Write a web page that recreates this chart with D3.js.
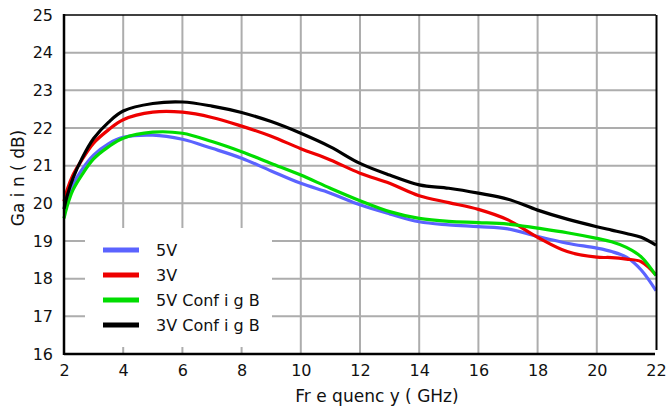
<!DOCTYPE html>
<html>
<head>
<meta charset="utf-8">
<script src="https://cdn.jsdelivr.net/npm/d3@7"></script>
<style>
	body { margin:0; background:#fff; }
	text { font-family: "DejaVu Sans", Verdana, sans-serif; fill:#111; }
</style>
</head>
<body>
<div id="chart"></div>
<script>
// frequency points (GHz)
var freq    = [2, 2.1, 2.3, 2.6, 3, 3.5, 4, 5, 6, 7, 8, 9, 10, 11, 12, 13, 14, 15, 16, 17, 18, 19, 20, 20.5, 21, 21.5, 22];
// gain (dB) per curve
var gain5V  = [19.9, 20.04, 20.49, 20.89, 21.28, 21.58, 21.75, 21.81, 21.70, 21.46, 21.20, 20.86, 20.53, 20.27, 19.96, 19.72, 19.51, 19.43, 19.38, 19.32, 19.12, 18.94, 18.81, 18.72, 18.57, 18.23, 17.68];
var gain3V  = [20.05, 20.35, 20.75, 21.15, 21.60, 21.95, 22.22, 22.42, 22.42, 22.28, 22.05, 21.78, 21.45, 21.15, 20.80, 20.53, 20.20, 20.02, 19.84, 19.56, 19.10, 18.72, 18.57, 18.56, 18.52, 18.45, 18.10];
var gain5VB = [19.6, 19.91, 20.35, 20.75, 21.18, 21.50, 21.73, 21.89, 21.86, 21.64, 21.37, 21.06, 20.75, 20.40, 20.07, 19.78, 19.60, 19.52, 19.49, 19.45, 19.34, 19.22, 19.07, 18.98, 18.83, 18.58, 18.08];
var gain3VB = [19.85, 20.18, 20.66, 21.18, 21.72, 22.15, 22.45, 22.65, 22.69, 22.58, 22.41, 22.17, 21.86, 21.50, 21.06, 20.75, 20.49, 20.40, 20.27, 20.11, 19.82, 19.58, 19.38, 19.29, 19.20, 19.10, 18.89];

var seriesNames  = ['5V', '3V', '5V Config B', '3V Config B'];
var seriesColors = ['#5b63ff', '#ee0000', '#00dd00', '#000000'];
var xTicks = [2, 4, 6, 8, 10, 12, 14, 16, 18, 20, 22];
var yTicks = [16, 17, 18, 19, 20, 21, 22, 23, 24, 25];

var W = 669, H = 410;
var plot = { left:64, top:15, right:656, bottom:354 };

var svg = d3.select('#chart').append('svg')
	.attr('width', W)
	.attr('height', H);

var x = d3.scaleLinear().domain([2, 22]).range([plot.left, plot.right]);
var y = d3.scaleLinear().domain([16, 25]).range([plot.bottom, plot.top]);

//格線
var grid = svg.append('g');
xTicks.slice(1, -1).forEach(function(t){
	grid.append('line')
		.attr('x1', x(t)).attr('x2', x(t))
		.attr('y1', plot.top).attr('y2', plot.bottom)
		.attr('stroke', '#adadad').attr('stroke-width', 2);
});
yTicks.slice(1, -1).forEach(function(t){
	grid.append('line')
		.attr('x1', plot.left).attr('x2', plot.right)
		.attr('y1', y(t)).attr('y2', y(t))
		.attr('stroke', '#adadad').attr('stroke-width', 2);
});

//legend background hides the grid
svg.append('rect')
	.attr('x', 85).attr('y', 228)
	.attr('width', 187).attr('height', 119)
	.attr('fill', '#fff');

//curves
var allGain = [gain5V, gain3V, gain5VB, gain3VB];
var line = d3.line()
	.x(function(d){ return x(d[0]); })
	.y(function(d){ return y(d[1]); })
	.curve(d3.curveCatmullRom.alpha(0.5));

var curves = svg.append('g');
allGain.forEach(function(g, i){
	curves.append('path')
		.datum(freq.map(function(f, k){ return [f, g[k]]; }))
		.attr('d', line)
		.attr('fill', 'none')
		.attr('stroke', seriesColors[i])
		.attr('stroke-width', 3.2)
		.attr('stroke-linejoin', 'round');
});

//frame
var frame = svg.append('g');
frame.append('line').attr('x1', plot.left).attr('x2', plot.right).attr('y1', plot.top).attr('y2', plot.top)
	.attr('stroke', '#000').attr('stroke-width', 1.5);
frame.append('line').attr('x1', plot.right + 0.5).attr('x2', plot.right + 0.5).attr('y1', plot.top).attr('y2', plot.bottom - 4)
	.attr('stroke', '#000').attr('stroke-width', 2);
frame.append('line').attr('x1', plot.left).attr('x2', plot.left).attr('y1', plot.top - 1).attr('y2', plot.bottom + 1)
	.attr('stroke', '#000').attr('stroke-width', 2.5);
frame.append('line').attr('x1', plot.left).attr('x2', plot.right - 1).attr('y1', plot.bottom).attr('y2', plot.bottom)
	.attr('stroke', '#000').attr('stroke-width', 2.5);

//刻度文字
var yAxis = d3.axisLeft(y).tickValues(yTicks).tickSize(0).tickPadding(11);
svg.append('g')
	.attr('transform', 'translate(' + plot.left + ',0)')
	.call(yAxis)
	.call(function(g){ g.select('.domain').remove(); })
	.selectAll('text')
	.attr('font-size', '16px')
	.attr('font-family', '"DejaVu Sans", Verdana, sans-serif')
	.attr('fill', '#111');

var xAxis = d3.axisBottom(x).tickValues(xTicks).tickSize(0).tickPadding(11);
svg.append('g')
	.attr('transform', 'translate(0,' + plot.bottom + ')')
	.call(xAxis)
	.call(function(g){ g.select('.domain').remove(); })
	.selectAll('text')
	.attr('font-size', '16px')
	.attr('font-family', '"DejaVu Sans", Verdana, sans-serif')
	.attr('fill', '#111');

//axis titles
svg.append('text')
	.attr('x', 377)
	.attr('y', 402)
	.attr('text-anchor', 'middle')
	.attr('font-size', '17px')
	.attr('xml:space', 'preserve')
	.text('Fr e quenc y ( GHz)');

svg.append('text')
	.attr('transform', 'translate(24,178) rotate(-90)')
	.attr('text-anchor', 'middle')
	.attr('font-size', '17px')
	.attr('xml:space', 'preserve')
	.text('Ga i n ( dB)');

//legend
var legend = svg.append('g');
seriesNames.forEach(function(name, i){
	var ly = 250 + i * 25;
	legend.append('line')
		.attr('x1', 103).attr('x2', 139)
		.attr('y1', ly).attr('y2', ly)
		.attr('stroke', seriesColors[i])
		.attr('stroke-width', 5);
	legend.append('text')
		.attr('x', 156)
		.attr('y', ly + 6)
		.attr('font-size', '16px')
		.attr('xml:space', 'preserve')
		.text(name.replace('Config', 'Conf i g'));
});
</script>
</body>
</html>
